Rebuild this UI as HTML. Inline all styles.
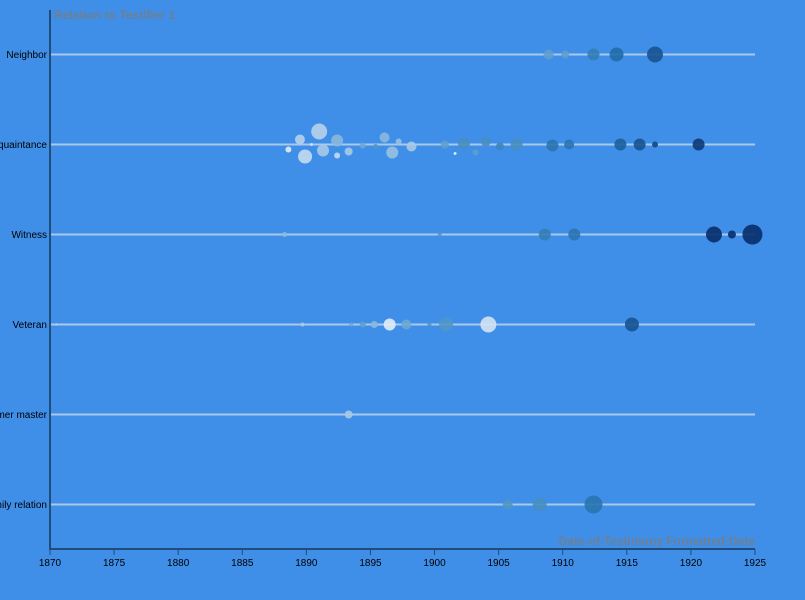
<!DOCTYPE html>
<html><head><meta charset="utf-8"><style>
html,body{margin:0;padding:0;background:#3f8fe9;}
svg{display:block;font-family:"Liberation Sans",sans-serif;}
</style></head><body>
<svg id="chart" width="805" height="600">
<rect width="805" height="600" fill="#3f8fe9"/>
<g id="grid"></g>
<g id="marks"></g>
<g id="axes"></g>
<text x="54" y="19" font-size="12" font-weight="bold" fill="#6f7f92">Relation to Testifier 1</text>
<text x="755" y="545" font-size="12" font-weight="bold" fill="#6f7f92" text-anchor="end">Date-of-Testimony Formatted-Date</text>
</svg>
<script>
const categories = ["Neighbor","Acquaintance","Witness","Veteran","Former master","Family relation"];
const xTicks = [1870,1875,1880,1885,1890,1895,1900,1905,1910,1915,1920,1925];
const pointCategory = [
 0,0,0,0,0,
 1,1,1,1,1,1,1,1,1,1,1,1,1,1,1,1,1,1,1,1,1,1,1,1,1,1,1,1,
 2,2,2,2,2,2,2,
 3,3,3,3,3,3,3,3,3,3,3,
 4,
 5,5,5];
const pointYear = [
 1908.9,1910.2,1912.4,1914.2,1917.2,
 1889.5,1891.0,1892.4,1888.6,1890.4,1889.9,1891.3,1892.4,1893.3,1894.4,1895.4,1896.1,1896.7,1897.2,1898.2,1900.8,1901.6,1902.3,1903.2,1904.0,1905.1,1906.4,1909.2,1910.5,1914.5,1916.0,1917.2,1920.6,
 1888.3,1900.4,1908.6,1910.9,1921.8,1923.2,1924.8,
 1870.5,1889.7,1893.5,1894.4,1895.3,1896.5,1897.8,1899.6,1900.9,1904.2,1915.4,
 1893.3,
 1905.7,1908.2,1912.4];
const pointJitter = [
 0,0,0,0,0,
 -5,-13,-4,5,0,12,6,11,7,1,2,-7,8,-3,2,0,9,-1,8,-3,2,0,1,0,0,0,0,0,
 0,0,0,0,0,0,0,
 0,0,0,0,0,0,0,0,0,0,0,
 0,
 0,0,0];
const pointSize = [
 5,4,6,7,8,
 5,8,6,3,1.5,7,6,3,4,3,2.5,5,6,3,5,4,1.5,6,3,5,4,6,6,5,6,6,3,6,
 2.5,2,6,6,8,4,10,
 1,2,2,3,3.5,6,5,2,7,8,7,
 4,
 5,7,9];
const pointShade = [
 0.45,0.45,0.65,0.75,0.85,
 0.15,0.15,0.3,0.0,0.05,0.1,0.2,0.1,0.2,0.4,0.5,0.3,0.25,0.25,0.2,0.45,0.0,0.55,0.45,0.55,0.6,0.55,0.7,0.7,0.8,0.85,0.9,0.95,
 0.3,0.5,0.65,0.7,1.0,1.0,1.0,
 0.1,0.2,0.4,0.45,0.3,0.0,0.4,0.5,0.5,0.05,0.85,
 0.2,
 0.5,0.55,0.7];

const NS="http://www.w3.org/2000/svg";
const x0=50,x1=755,y0=54.5,yStep=90;
function xScale(v){return x0+(v-1870)/(1925-1870)*(x1-x0);}
function yScale(c){return y0+c*yStep;}
const stops=[[0,[225,236,248]],[0.5,[80,150,200]],[0.75,[33,108,170]],[1,[8,46,105]]];
function color(s){
 for(let k=1;k<stops.length;k++){
  if(s<=stops[k][0]){
   const [sa,a]=stops[k-1],[sb,b]=stops[k];const t=(s-sa)/(sb-sa);
   return "rgb("+a.map((v,i)=>Math.round(v+(b[i]-v)*t)).join(",")+")";
  }
 }
 return "rgb(8,46,105)";
}
function mk(tag,attrs){const e=document.createElementNS(NS,tag);for(const k in attrs)e.setAttribute(k,attrs[k]);return e;}
const grid=document.getElementById("grid"),marks=document.getElementById("marks"),axes=document.getElementById("axes");
categories.forEach((c,i)=>{
 const y=yScale(i);
 const l=mk("line",{x1:x0,x2:x1,y1:y,y2:y,stroke:"#a9c8ea","stroke-width":2});
 
 
 grid.appendChild(l);
 const t=mk("text",{x:47,y:y+3.5,"font-size":10,"text-anchor":"end",fill:"#000"});
 t.textContent=c;
 
 
 axes.appendChild(t);
});
pointYear.forEach((yr,i)=>{
 const c=mk("circle",{cx:xScale(yr),cy:yScale(pointCategory[i])+pointJitter[i],r:pointSize[i],fill:color(pointShade[i]),"fill-opacity":0.9});
 
 
 marks.appendChild(c);
});
const ya=mk("line",{x1:x0,x2:x0,y1:10,y2:549,stroke:"#1f4c7a","stroke-width":2});


axes.appendChild(ya);
const xa=mk("line",{x1:x0-1,x2:x1,y1:549,y2:549,stroke:"#1f4c7a","stroke-width":2});


axes.appendChild(xa);
xTicks.forEach(v=>{
 const x=xScale(v);
 const tk=mk("line",{x1:x,x2:x,y1:549,y2:555,stroke:"#1f4c7a","stroke-width":1});
 
 
 axes.appendChild(tk);
 const t=mk("text",{x:x,y:566,"font-size":10,"text-anchor":"middle",fill:"#000"});
 t.textContent=v;
 
 
 axes.appendChild(t);
});
</script>
</body></html>
